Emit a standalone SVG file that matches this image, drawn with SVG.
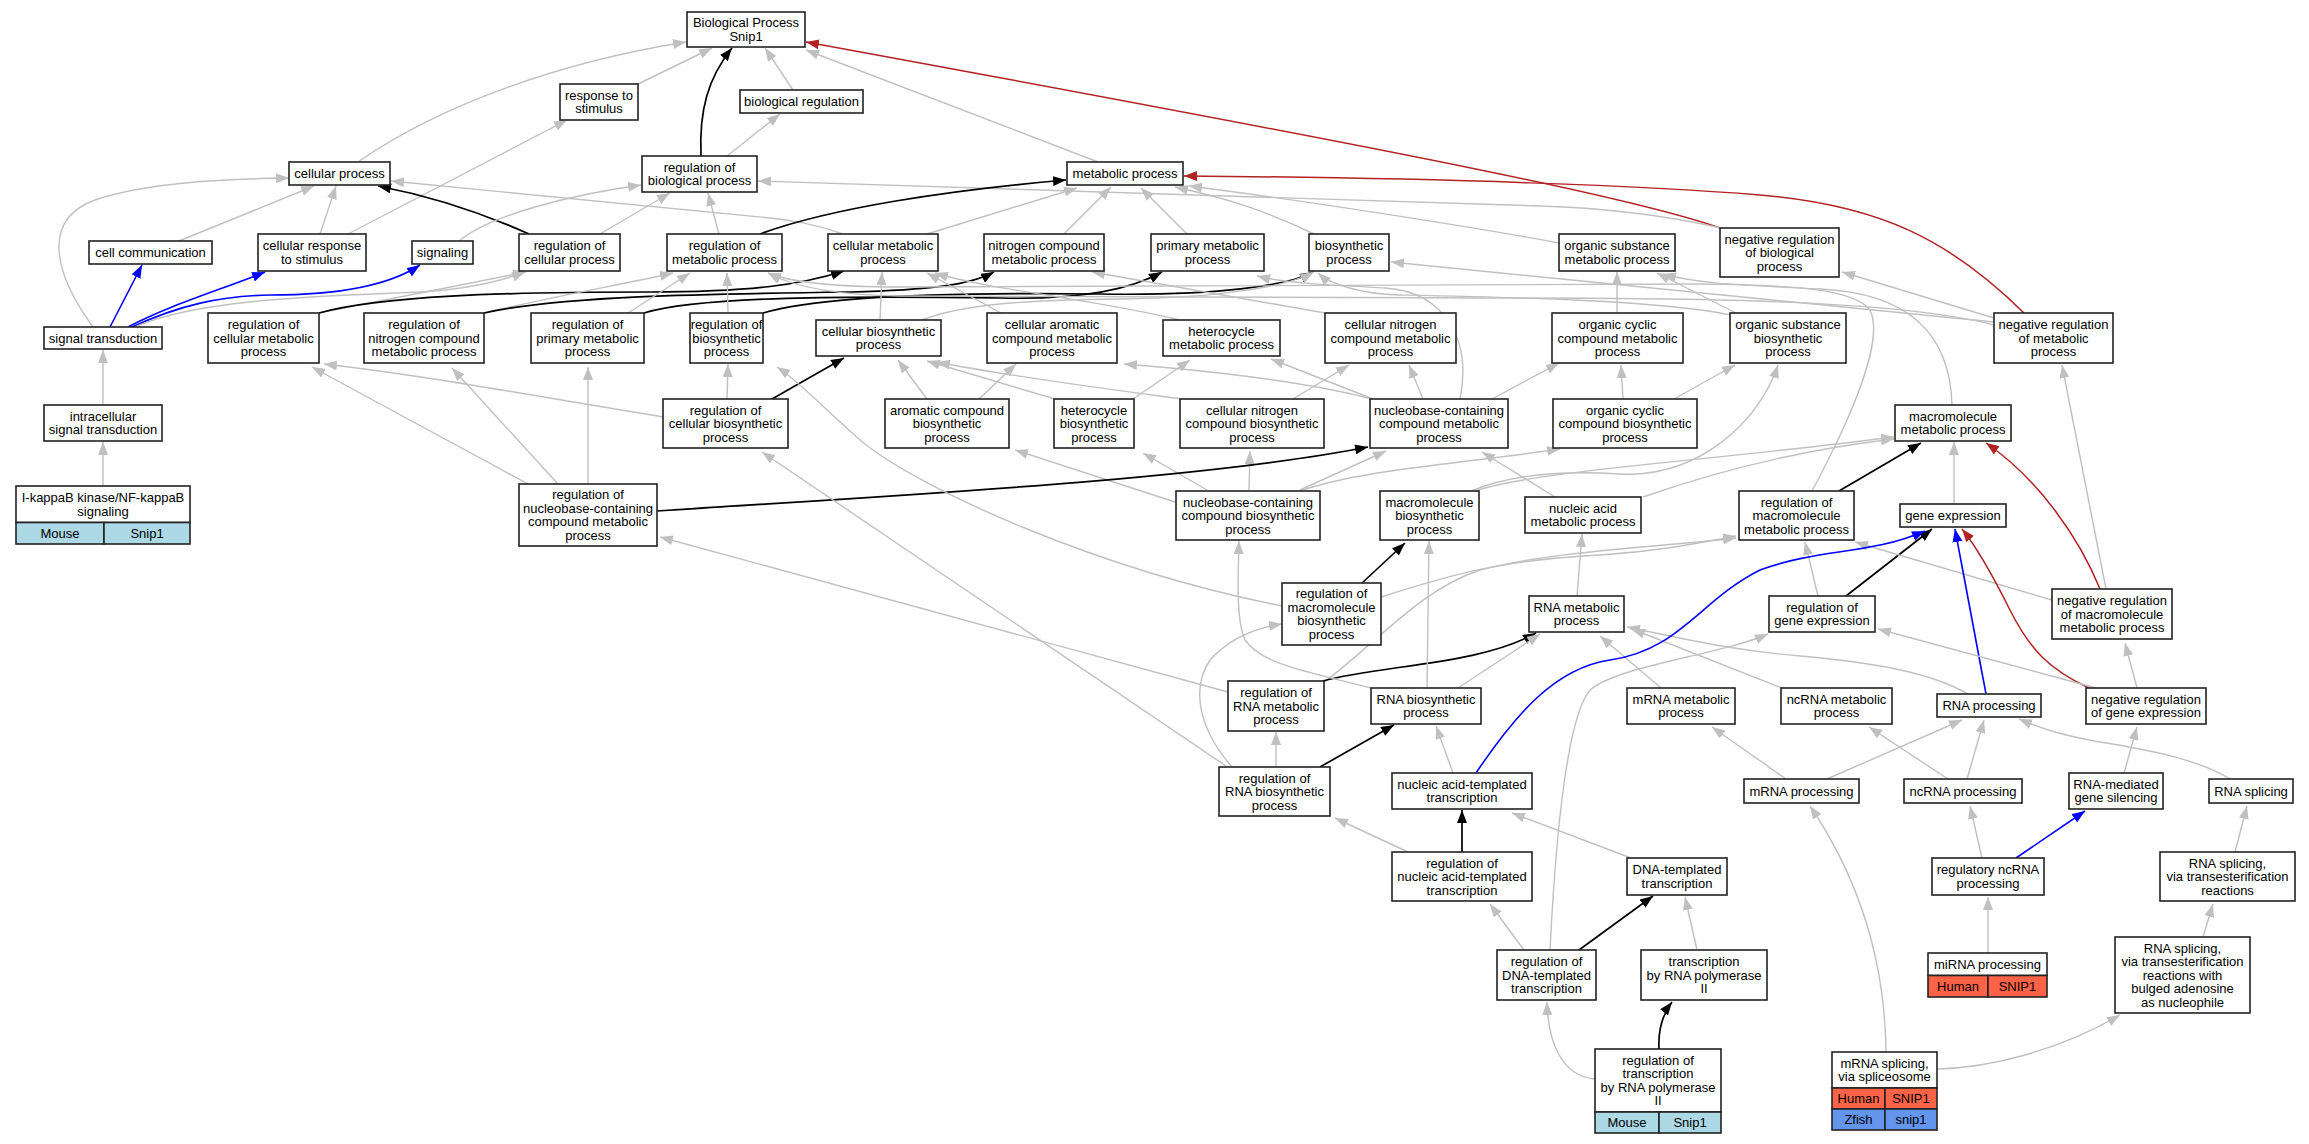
<svg xmlns="http://www.w3.org/2000/svg" width="2309" height="1144" viewBox="0 0 2309 1144">
<style>
text{font-family:"Liberation Sans",Arial,sans-serif;font-size:13px;text-anchor:middle;fill:#000}
.n rect{fill:#fff;stroke:#222;stroke-width:1.6}
rect.mo{fill:#add8e6}
rect.hu{fill:#ff6347}
rect.zf{fill:#6495ed}
.g{fill:none;stroke:#c0c0c0;stroke-width:1.4;marker-end:url(#ag)}
.k{fill:none;stroke:#000;stroke-width:1.7;marker-end:url(#ak)}
.b{fill:none;stroke:#0000ff;stroke-width:1.6;marker-end:url(#ab)}
.r{fill:none;stroke:#b22222;stroke-width:1.5;marker-end:url(#ar)}
</style>
<defs>
<marker id="ag" viewBox="0 0 13 10" refX="13" refY="5" markerWidth="13" markerHeight="10" markerUnits="userSpaceOnUse" orient="auto"><path d="M0,0 L13,5 L0,10 z" fill="#c0c0c0"/></marker>
<marker id="ak" viewBox="0 0 13 10" refX="13" refY="5" markerWidth="13" markerHeight="10" markerUnits="userSpaceOnUse" orient="auto"><path d="M0,0 L13,5 L0,10 z" fill="#000"/></marker>
<marker id="ab" viewBox="0 0 13 10" refX="13" refY="5" markerWidth="13" markerHeight="10" markerUnits="userSpaceOnUse" orient="auto"><path d="M0,0 L13,5 L0,10 z" fill="#0000ff"/></marker>
<marker id="ar" viewBox="0 0 13 10" refX="13" refY="5" markerWidth="13" markerHeight="10" markerUnits="userSpaceOnUse" orient="auto"><path d="M0,0 L13,5 L0,10 z" fill="#b22222"/></marker>
</defs>
<rect width="2309" height="1144" fill="#fff"/>
<g id="edges">
<path class="g" d="M358,162 C440,105 560,62 686,42"/>
<path class="g" d="M638,84 L712,48"/>
<path class="k" d="M701,156 C699,110 708,78 732,48"/>
<path class="g" d="M793,90 L765,48"/>
<path class="g" d="M1098,162 L806,50"/>
<path class="r" d="M1720,228 C1640,200 1450,160 806,42"/>
<path class="g" d="M727,156 L780,114"/>
<path class="g" d="M348,234 L567,120"/>
<path class="g" d="M179,241 L314,186"/>
<path class="g" d="M320,234 L336,186"/>
<path class="k" d="M529,234 C480,212 430,196 378,186"/>
<path class="g" d="M93,327 C55,275 40,220 95,200 C145,183 220,179 289,178"/>
<path class="g" d="M843,234 C815,224 795,221 770,218 L391,181"/>
<path class="g" d="M600,234 L670,193"/>
<path class="g" d="M719,234 L708,193"/>
<path class="g" d="M459,241 C490,215 570,195 641,185"/>
<path class="g" d="M1721,228 C1660,214 1600,208 1540,206 L758,181"/>
<path class="k" d="M760,234 C830,208 950,190 1066,180"/>
<path class="g" d="M927,234 L1077,188"/>
<path class="g" d="M1064,234 L1111,187"/>
<path class="g" d="M1187,234 L1141,188"/>
<path class="g" d="M1314,234 C1265,210 1225,198 1175,187"/>
<path class="g" d="M1559,243 C1480,228 1300,200 1189,186"/>
<path class="r" d="M2024,313 C1950,240 1880,205 1760,195 C1650,186 1450,178 1184,176"/>
<path class="b" d="M110,327 L142,265"/>
<path class="b" d="M128,327 C170,305 220,290 265,272"/>
<path class="b" d="M132,327 C180,305 220,296 270,295 C340,295 390,285 420,265"/>
<path class="g" d="M135,327 C200,298 330,296 420,292 C460,290 500,282 525,272"/>
<path class="g" d="M319,313 L526,272"/>
<path class="k" d="M319,313 C380,296 500,292 650,292 C750,292 800,285 844,271"/>
<path class="g" d="M484,313 C560,295 620,285 673,273"/>
<path class="k" d="M484,313 C560,296 700,294 850,292 C930,290 970,285 994,272"/>
<path class="g" d="M628,313 L690,273"/>
<path class="k" d="M644,313 C700,296 850,296 1000,298 C1080,300 1130,290 1162,272"/>
<path class="g" d="M728,313 L727,273"/>
<path class="k" d="M763,313 C820,296 950,292 1100,294 C1220,296 1290,285 1313,272"/>
<path class="g" d="M880,320 L882,272"/>
<path class="g" d="M922,320 C960,305 1020,300 1120,299 C1220,298 1290,286 1313,272"/>
<path class="g" d="M1001,313 L927,273"/>
<path class="g" d="M1180,320 C1100,300 990,290 935,273"/>
<path class="g" d="M1325,313 L1092,272"/>
<path class="g" d="M1460,399 C1472,340 1445,292 1385,288 C1330,285 1285,283 1257,276"/>
<path class="g" d="M1617,313 L1617,272"/>
<path class="g" d="M1736,313 L1657,273"/>
<path class="g" d="M1952,405 C1950,330 1905,293 1820,289 C1740,285 1700,284 1663,274"/>
<path class="g" d="M1731,315 C1660,300 1500,297 1400,295 C1360,294 1330,284 1318,273"/>
<path class="g" d="M1994,322 L1391,262"/>
<path class="g" d="M1994,325 C1900,300 1700,298 1500,298 L900,296 C830,295 790,285 768,273"/>
<path class="g" d="M1994,318 L1842,272"/>
<path class="g" d="M1812,491 C1850,420 1885,340 1870,310 C1855,290 1800,285 1700,284 L900,287 C830,287 790,282 768,273"/>
<path class="g" d="M2106,589 L2062,365"/>
<path class="g" d="M663,417 C500,390 420,375 324,364"/>
<path class="g" d="M727,399 L728,364"/>
<path class="k" d="M772,399 L844,358"/>
<path class="g" d="M927,399 L898,360"/>
<path class="g" d="M979,399 L1016,364"/>
<path class="g" d="M1055,399 L927,361"/>
<path class="g" d="M1133,399 L1190,360"/>
<path class="g" d="M1182,399 C1100,388 1000,375 937,362"/>
<path class="g" d="M1293,399 L1349,365"/>
<path class="g" d="M1372,399 C1300,380 1200,370 1124,364"/>
<path class="g" d="M1373,399 L1271,359"/>
<path class="g" d="M1423,399 L1409,365"/>
<path class="g" d="M1492,399 L1559,363"/>
<path class="g" d="M1623,399 L1621,365"/>
<path class="g" d="M1674,399 L1735,365"/>
<path class="g" d="M1471,491 C1510,475 1560,470 1620,474 C1700,478 1760,420 1778,365"/>
<path class="g" d="M1475,491 C1540,470 1700,462 1894,437"/>
<path class="g" d="M1643,497 C1720,470 1800,450 1894,439"/>
<path class="g" d="M1555,497 L1482,452"/>
<path class="g" d="M1300,490 L1386,451"/>
<path class="g" d="M1300,491 C1360,470 1450,465 1560,449"/>
<path class="g" d="M1207,490 L1143,453"/>
<path class="g" d="M1249,490 L1250,451"/>
<path class="g" d="M1178,503 L1015,450"/>
<path class="k" d="M657,511 C900,495 1200,480 1368,447"/>
<path class="g" d="M528,484 L312,367"/>
<path class="g" d="M558,484 L452,368"/>
<path class="g" d="M588,484 L588,367"/>
<path class="g" d="M1282,606 C1100,570 920,490 860,440 C820,405 800,382 777,367"/>
<path class="k" d="M1362,583 L1405,543"/>
<path class="g" d="M1381,597 C1450,575 1500,560 1600,555 C1650,552 1690,545 1736,536"/>
<path class="g" d="M1323,683 C1380,640 1420,590 1480,570 C1560,550 1650,548 1736,538"/>
<path class="k" d="M1323,681 C1380,665 1480,665 1536,633"/>
<path class="g" d="M1228,692 L660,537"/>
<path class="g" d="M1458,688 L1540,634"/>
<path class="g" d="M1427,688 L1429,541"/>
<path class="g" d="M1371,688 C1310,672 1262,665 1245,640 C1236,620 1238,580 1239,541"/>
<path class="g" d="M1577,596 L1582,534"/>
<path class="g" d="M1661,688 L1600,636"/>
<path class="g" d="M1782,688 L1632,629"/>
<path class="g" d="M1968,694 C1930,672 1870,662 1800,656 C1730,650 1690,640 1627,627"/>
<path class="g" d="M1818,596 L1805,542"/>
<path class="k" d="M1846,596 L1932,529"/>
<path class="g" d="M2052,600 L1855,542"/>
<path class="r" d="M2100,589 C2080,540 2040,480 1986,443"/>
<path class="k" d="M1839,491 L1921,443"/>
<path class="g" d="M1954,504 L1954,442"/>
<path class="b" d="M1476,773 C1515,715 1555,668 1610,660 C1680,650 1700,600 1760,570 C1820,548 1870,555 1925,531"/>
<path class="b" d="M1986,694 L1955,529"/>
<path class="r" d="M2089,688 C2050,670 2030,650 2010,610 C1990,570 1975,545 1962,529"/>
<path class="g" d="M2096,688 L1878,629"/>
<path class="g" d="M2137,688 L2125,643"/>
<path class="g" d="M1550,950 C1555,850 1565,720 1590,690 C1620,665 1720,655 1768,634"/>
<path class="k" d="M1320,767 L1394,725"/>
<path class="g" d="M1276,767 L1276,732"/>
<path class="g" d="M1232,767 C1200,730 1190,690 1210,660 C1230,638 1255,628 1282,624"/>
<path class="g" d="M1226,766 L762,452"/>
<path class="g" d="M1453,773 L1436,726"/>
<path class="k" d="M1462,852 L1462,810"/>
<path class="g" d="M1408,852 L1335,818"/>
<path class="g" d="M1631,858 L1512,813"/>
<path class="g" d="M1524,950 L1490,904"/>
<path class="k" d="M1579,950 L1653,896"/>
<path class="g" d="M1697,950 L1685,897"/>
<path class="k" d="M1659,1049 C1658,1030 1662,1015 1672,1002"/>
<path class="g" d="M1594,1079 C1560,1075 1548,1040 1547,1002"/>
<path class="g" d="M1786,779 L1712,727"/>
<path class="g" d="M1827,779 L1962,720"/>
<path class="g" d="M1948,779 L1869,727"/>
<path class="g" d="M1967,779 L1984,720"/>
<path class="g" d="M2230,779 C2200,760 2150,750 2100,742 C2060,735 2040,728 2019,719"/>
<path class="g" d="M2124,773 L2137,727"/>
<path class="g" d="M1982,858 L1970,806"/>
<path class="b" d="M2016,858 L2085,811"/>
<path class="g" d="M1988,953 L1988,897"/>
<path class="g" d="M2235,852 L2247,806"/>
<path class="g" d="M2203,937 L2213,904"/>
<path class="g" d="M1937,1069 C1990,1068 2060,1050 2120,1015"/>
<path class="g" d="M1886,1052 C1885,960 1860,880 1810,806"/>
<path class="g" d="M103,405 L103,350"/>
<path class="g" d="M103,486 L103,442"/>
</g>
<g id="n1" class="n"><rect x="687" y="12" width="118" height="35"/><text x="746" y="27.25">Biological Process</text><text x="746" y="40.75">Snip1</text></g>
<g id="n2" class="n"><rect x="560" y="84" width="78" height="36"/><text x="599" y="99.75">response to</text><text x="599" y="113.25">stimulus</text></g>
<g id="n3" class="n"><rect x="740" y="90" width="123" height="23"/><text x="801.5" y="106">biological regulation</text></g>
<g id="n4" class="n"><rect x="289" y="162" width="101" height="23"/><text x="339.5" y="178">cellular process</text></g>
<g id="n5" class="n"><rect x="642" y="156" width="115" height="36"/><text x="699.5" y="171.75">regulation of</text><text x="699.5" y="185.25">biological process</text></g>
<g id="n6" class="n"><rect x="1067" y="162" width="116" height="23"/><text x="1125" y="178">metabolic process</text></g>
<g id="n7" class="n"><rect x="89" y="241" width="123" height="23"/><text x="150.5" y="257">cell communication</text></g>
<g id="n8" class="n"><rect x="258" y="234" width="108" height="37"/><text x="312" y="250.25">cellular response</text><text x="312" y="263.75">to stimulus</text></g>
<g id="n9" class="n"><rect x="412" y="241" width="61" height="23"/><text x="442.5" y="257">signaling</text></g>
<g id="n10" class="n"><rect x="519" y="234" width="101" height="37"/><text x="569.5" y="250.25">regulation of</text><text x="569.5" y="263.75">cellular process</text></g>
<g id="n11" class="n"><rect x="667" y="234" width="115" height="37"/><text x="724.5" y="250.25">regulation of</text><text x="724.5" y="263.75">metabolic process</text></g>
<g id="n12" class="n"><rect x="828" y="234" width="110" height="37"/><text x="883" y="250.25">cellular metabolic</text><text x="883" y="263.75">process</text></g>
<g id="n13" class="n"><rect x="984" y="234" width="120" height="37"/><text x="1044" y="250.25">nitrogen compound</text><text x="1044" y="263.75">metabolic process</text></g>
<g id="n14" class="n"><rect x="1151" y="234" width="113" height="37"/><text x="1207.5" y="250.25">primary metabolic</text><text x="1207.5" y="263.75">process</text></g>
<g id="n15" class="n"><rect x="1309" y="234" width="80" height="37"/><text x="1349" y="250.25">biosynthetic</text><text x="1349" y="263.75">process</text></g>
<g id="n16" class="n"><rect x="1559" y="234" width="116" height="37"/><text x="1617" y="250.25">organic substance</text><text x="1617" y="263.75">metabolic process</text></g>
<g id="n17" class="n"><rect x="1720" y="228" width="119" height="49"/><text x="1779.5" y="243.5">negative regulation</text><text x="1779.5" y="257">of biological</text><text x="1779.5" y="270.5">process</text></g>
<g id="n18" class="n"><rect x="44" y="327" width="118" height="22"/><text x="103" y="342.5">signal transduction</text></g>
<g id="n19" class="n"><rect x="208" y="313" width="111" height="50"/><text x="263.5" y="329">regulation of</text><text x="263.5" y="342.5">cellular metabolic</text><text x="263.5" y="356">process</text></g>
<g id="n20" class="n"><rect x="364" y="313" width="120" height="50"/><text x="424" y="329">regulation of</text><text x="424" y="342.5">nitrogen compound</text><text x="424" y="356">metabolic process</text></g>
<g id="n21" class="n"><rect x="531" y="313" width="113" height="50"/><text x="587.5" y="329">regulation of</text><text x="587.5" y="342.5">primary metabolic</text><text x="587.5" y="356">process</text></g>
<g id="n22" class="n"><rect x="690" y="313" width="73" height="50"/><text x="726.5" y="329">regulation of</text><text x="726.5" y="342.5">biosynthetic</text><text x="726.5" y="356">process</text></g>
<g id="n23" class="n"><rect x="816" y="320" width="125" height="36"/><text x="878.5" y="335.75">cellular biosynthetic</text><text x="878.5" y="349.25">process</text></g>
<g id="n24" class="n"><rect x="987" y="313" width="130" height="50"/><text x="1052" y="329">cellular aromatic</text><text x="1052" y="342.5">compound metabolic</text><text x="1052" y="356">process</text></g>
<g id="n25" class="n"><rect x="1163" y="320" width="117" height="36"/><text x="1221.5" y="335.75">heterocycle</text><text x="1221.5" y="349.25">metabolic process</text></g>
<g id="n26" class="n"><rect x="1325" y="313" width="131" height="50"/><text x="1390.5" y="329">cellular nitrogen</text><text x="1390.5" y="342.5">compound metabolic</text><text x="1390.5" y="356">process</text></g>
<g id="n27" class="n"><rect x="1552" y="313" width="131" height="50"/><text x="1617.5" y="329">organic cyclic</text><text x="1617.5" y="342.5">compound metabolic</text><text x="1617.5" y="356">process</text></g>
<g id="n28" class="n"><rect x="1730" y="313" width="116" height="50"/><text x="1788" y="329">organic substance</text><text x="1788" y="342.5">biosynthetic</text><text x="1788" y="356">process</text></g>
<g id="n29" class="n"><rect x="1994" y="313" width="119" height="50"/><text x="2053.5" y="329">negative regulation</text><text x="2053.5" y="342.5">of metabolic</text><text x="2053.5" y="356">process</text></g>
<g id="n30" class="n"><rect x="44" y="405" width="118" height="36"/><text x="103" y="420.75">intracellular</text><text x="103" y="434.25">signal transduction</text></g>
<g id="n31" class="n"><rect x="663" y="399" width="125" height="49"/><text x="725.5" y="414.5">regulation of</text><text x="725.5" y="428">cellular biosynthetic</text><text x="725.5" y="441.5">process</text></g>
<g id="n32" class="n"><rect x="885" y="399" width="124" height="49"/><text x="947" y="414.5">aromatic compound</text><text x="947" y="428">biosynthetic</text><text x="947" y="441.5">process</text></g>
<g id="n33" class="n"><rect x="1054" y="399" width="80" height="49"/><text x="1094" y="414.5">heterocycle</text><text x="1094" y="428">biosynthetic</text><text x="1094" y="441.5">process</text></g>
<g id="n34" class="n"><rect x="1180" y="399" width="144" height="49"/><text x="1252" y="414.5">cellular nitrogen</text><text x="1252" y="428">compound biosynthetic</text><text x="1252" y="441.5">process</text></g>
<g id="n35" class="n"><rect x="1370" y="399" width="138" height="49"/><text x="1439" y="414.5">nucleobase-containing</text><text x="1439" y="428">compound metabolic</text><text x="1439" y="441.5">process</text></g>
<g id="n36" class="n"><rect x="1553" y="399" width="144" height="49"/><text x="1625" y="414.5">organic cyclic</text><text x="1625" y="428">compound biosynthetic</text><text x="1625" y="441.5">process</text></g>
<g id="n37" class="n"><rect x="1895" y="405" width="116" height="36"/><text x="1953" y="420.75">macromolecule</text><text x="1953" y="434.25">metabolic process</text></g>
<g id="n38" class="n"><rect x="16" y="486" width="174" height="36.5"/><text x="103" y="502">I-kappaB kinase/NF-kappaB</text><text x="103" y="515.5">signaling</text><rect class="mo" x="16" y="522.5" width="88" height="21.5"/><rect class="mo" x="104" y="522.5" width="86" height="21.5"/><text x="60" y="537.75">Mouse</text><text x="147" y="537.75">Snip1</text></g>
<g id="n39" class="n"><rect x="519" y="484" width="138" height="62"/><text x="588" y="499.25">regulation of</text><text x="588" y="512.75">nucleobase-containing</text><text x="588" y="526.25">compound metabolic</text><text x="588" y="539.75">process</text></g>
<g id="n40" class="n"><rect x="1176" y="491" width="144" height="49"/><text x="1248" y="506.5">nucleobase-containing</text><text x="1248" y="520">compound biosynthetic</text><text x="1248" y="533.5">process</text></g>
<g id="n41" class="n"><rect x="1380" y="491" width="99" height="49"/><text x="1429.5" y="506.5">macromolecule</text><text x="1429.5" y="520">biosynthetic</text><text x="1429.5" y="533.5">process</text></g>
<g id="n42" class="n"><rect x="1525" y="497" width="116" height="36"/><text x="1583" y="512.75">nucleic acid</text><text x="1583" y="526.25">metabolic process</text></g>
<g id="n43" class="n"><rect x="1739" y="491" width="115" height="49"/><text x="1796.5" y="506.5">regulation of</text><text x="1796.5" y="520">macromolecule</text><text x="1796.5" y="533.5">metabolic process</text></g>
<g id="n44" class="n"><rect x="1900" y="504" width="106" height="23"/><text x="1953" y="520">gene expression</text></g>
<g id="n45" class="n"><rect x="1282" y="583" width="99" height="62"/><text x="1331.5" y="598.25">regulation of</text><text x="1331.5" y="611.75">macromolecule</text><text x="1331.5" y="625.25">biosynthetic</text><text x="1331.5" y="638.75">process</text></g>
<g id="n46" class="n"><rect x="1529" y="596" width="95" height="36"/><text x="1576.5" y="611.75">RNA metabolic</text><text x="1576.5" y="625.25">process</text></g>
<g id="n47" class="n"><rect x="1769" y="596" width="106" height="36"/><text x="1822" y="611.75">regulation of</text><text x="1822" y="625.25">gene expression</text></g>
<g id="n48" class="n"><rect x="2052" y="589" width="120" height="50"/><text x="2112" y="605">negative regulation</text><text x="2112" y="618.5">of macromolecule</text><text x="2112" y="632">metabolic process</text></g>
<g id="n49" class="n"><rect x="1228" y="681" width="96" height="50"/><text x="1276" y="697">regulation of</text><text x="1276" y="710.5">RNA metabolic</text><text x="1276" y="724">process</text></g>
<g id="n50" class="n"><rect x="1371" y="688" width="110" height="36"/><text x="1426" y="703.75">RNA biosynthetic</text><text x="1426" y="717.25">process</text></g>
<g id="n51" class="n"><rect x="1627" y="688" width="108" height="36"/><text x="1681" y="703.75">mRNA metabolic</text><text x="1681" y="717.25">process</text></g>
<g id="n52" class="n"><rect x="1781" y="688" width="111" height="36"/><text x="1836.5" y="703.75">ncRNA metabolic</text><text x="1836.5" y="717.25">process</text></g>
<g id="n53" class="n"><rect x="1937" y="694" width="104" height="23"/><text x="1989" y="710">RNA processing</text></g>
<g id="n54" class="n"><rect x="2086" y="688" width="120" height="36"/><text x="2146" y="703.75">negative regulation</text><text x="2146" y="717.25">of gene expression</text></g>
<g id="n55" class="n"><rect x="1219" y="767" width="111" height="49"/><text x="1274.5" y="782.5">regulation of</text><text x="1274.5" y="796">RNA biosynthetic</text><text x="1274.5" y="809.5">process</text></g>
<g id="n56" class="n"><rect x="1392" y="773" width="140" height="36"/><text x="1462" y="788.75">nucleic acid-templated</text><text x="1462" y="802.25">transcription</text></g>
<g id="n57" class="n"><rect x="1744" y="779" width="115" height="24"/><text x="1801.5" y="795.5">mRNA processing</text></g>
<g id="n58" class="n"><rect x="1904" y="779" width="118" height="24"/><text x="1963" y="795.5">ncRNA processing</text></g>
<g id="n59" class="n"><rect x="2069" y="773" width="94" height="36"/><text x="2116" y="788.75">RNA-mediated</text><text x="2116" y="802.25">gene silencing</text></g>
<g id="n60" class="n"><rect x="2209" y="779" width="84" height="24"/><text x="2251" y="795.5">RNA splicing</text></g>
<g id="n61" class="n"><rect x="1392" y="852" width="140" height="49"/><text x="1462" y="867.5">regulation of</text><text x="1462" y="881">nucleic acid-templated</text><text x="1462" y="894.5">transcription</text></g>
<g id="n62" class="n"><rect x="1627" y="858" width="100" height="37"/><text x="1677" y="874.25">DNA-templated</text><text x="1677" y="887.75">transcription</text></g>
<g id="n63" class="n"><rect x="1932" y="858" width="112" height="37"/><text x="1988" y="874.25">regulatory ncRNA</text><text x="1988" y="887.75">processing</text></g>
<g id="n64" class="n"><rect x="2160" y="852" width="135" height="49"/><text x="2227.5" y="867.5">RNA splicing,</text><text x="2227.5" y="881">via transesterification</text><text x="2227.5" y="894.5">reactions</text></g>
<g id="n65" class="n"><rect x="1497" y="950" width="99" height="50"/><text x="1546.5" y="966">regulation of</text><text x="1546.5" y="979.5">DNA-templated</text><text x="1546.5" y="993">transcription</text></g>
<g id="n66" class="n"><rect x="1641" y="950" width="126" height="50"/><text x="1704" y="966">transcription</text><text x="1704" y="979.5">by RNA polymerase</text><text x="1704" y="993">II</text></g>
<g id="n67" class="n"><rect x="1928" y="953" width="119" height="22.5"/><text x="1987.5" y="968.75">miRNA processing</text><rect class="hu" x="1928" y="975.5" width="60" height="21.5"/><rect class="hu" x="1988" y="975.5" width="59" height="21.5"/><text x="1958" y="990.75">Human</text><text x="2017.5" y="990.75">SNIP1</text></g>
<g id="n68" class="n"><rect x="2115" y="937" width="135" height="76"/><text x="2182.5" y="952.5">RNA splicing,</text><text x="2182.5" y="966">via transesterification</text><text x="2182.5" y="979.5">reactions with</text><text x="2182.5" y="993">bulged adenosine</text><text x="2182.5" y="1006.5">as nucleophile</text></g>
<g id="n69" class="n"><rect x="1595" y="1049" width="126" height="63"/><text x="1658" y="1064.75">regulation of</text><text x="1658" y="1078.25">transcription</text><text x="1658" y="1091.75">by RNA polymerase</text><text x="1658" y="1105.25">II</text><rect class="mo" x="1595" y="1112" width="64" height="21"/><rect class="mo" x="1659" y="1112" width="62" height="21"/><text x="1627" y="1127">Mouse</text><text x="1690" y="1127">Snip1</text></g>
<g id="n70" class="n"><rect x="1832" y="1052" width="105" height="36"/><text x="1884.5" y="1067.75">mRNA splicing,</text><text x="1884.5" y="1081.25">via spliceosome</text><rect class="hu" x="1832" y="1088" width="53" height="21"/><rect class="hu" x="1885" y="1088" width="52" height="21"/><text x="1858.5" y="1103">Human</text><text x="1911" y="1103">SNIP1</text><rect class="zf" x="1832" y="1109" width="53" height="21"/><rect class="zf" x="1885" y="1109" width="52" height="21"/><text x="1858.5" y="1124">Zfish</text><text x="1911" y="1124">snip1</text></g>
</svg>
